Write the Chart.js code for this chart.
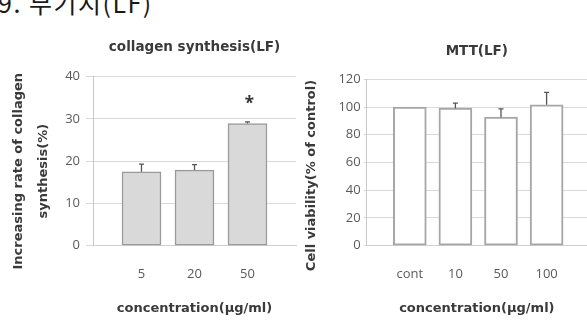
<!DOCTYPE html>
<html>
<head>
<meta charset="utf-8">
<script src="https://cdn.jsdelivr.net/npm/chart.js@4.4.1/dist/chart.umd.min.js"></script>
<style>
  html, body { margin: 0; padding: 0; background: #fff; }
  body { width: 587px; height: 324px; position: relative; overflow: hidden; }
  #hdr { position: absolute; left: -2px; top: -10px; font-family: "Noto Sans CJK KR", sans-serif; font-size: 25px; line-height: 25px; letter-spacing: 1.5px; color: #1a1a1a; white-space: nowrap; }
  canvas { position: absolute; top: 0; }
  #c1 { left: 0; }
  #c2 { left: 290px; }
</style>
</head>
<body>
<div id="hdr">9. 부기지(LF)</div>
<canvas id="c1" width="300" height="324"></canvas>
<canvas id="c2" width="297" height="324"></canvas>
<script>
// ---- data ----
const leftTitle = 'collagen synthesis(LF)';
const leftCats = ['5', '20', '50'];
const leftVals = [17.5, 17.9, 28.9];
const leftErr = [1.8, 1.3, 0.4];
const leftMarks = ['', '', '*'];
const leftYTitle = ['Increasing rate of collagen', 'synthesis(%)'];
const leftYMax = 40;
const leftYStep = 10;

const rightTitle = 'MTT(LF)';
const rightCats = ['cont', '10', '50', '100'];
const rightVals = [100, 99.2, 92.7, 101.6];
const rightErr = [0, 3.6, 6.0, 8.9];
const rightYTitle = 'Cell viability(% of control)';
const rightYMax = 120;
const rightYStep = 20;

const xTitle = 'concentration(μg/ml)';

// ---- styles ----
const FONT = '"Open Sans", "Noto Sans", sans-serif';
const BOLD = '"DejaVu Sans", sans-serif';
const textDark = '#3a3a3a';
const tickGray = '#5a5a5a';
const gridGray = '#d9d9d9';

const errPlugin = {
  id: 'errbars',
  afterLayout(chart, args, opts) {
    const ys = chart.scales.y;
    if (ys._titleShiftPatched) return;
    const orig = ys.drawTitle;
    ys.drawTitle = function () {
      const t = this.top, b = this.bottom;
      this.top += opts.shift; this.bottom += opts.shift;
      orig.apply(this, arguments);
      this.top = t; this.bottom = b;
    };
    ys._titleShiftPatched = true;
  },
  afterDatasetsDraw(chart, args, opts) {
    const ctx = chart.ctx;
    const ys = chart.scales.y;
    const meta = chart.getDatasetMeta(0);
    ctx.save();
    ctx.strokeStyle = '#555';
    ctx.lineWidth = 1.3;
    meta.data.forEach((el, i) => {
      const v = opts.vals[i], e = opts.errs[i];
      if (e > 0) {
        const yTop = ys.getPixelForValue(v + e);
        const yBar = ys.getPixelForValue(v);
        ctx.beginPath();
        ctx.moveTo(el.x, yBar);
        ctx.lineTo(el.x, yTop);
        ctx.moveTo(el.x - 2.5, yTop);
        ctx.lineTo(el.x + 2.5, yTop);
        ctx.stroke();
      }
      const m = opts.marks ? opts.marks[i] : '';
      if (m) {
        ctx.fillStyle = '#333';
        ctx.font = 'bold 17px ' + FONT;
        ctx.textAlign = 'center';
        ctx.textBaseline = 'middle';
        ctx.fillText(m, el.x + 2, ys.getPixelForValue(v + e) - 18);
      }
    });
    ctx.restore();
  }
};

function makeChart(id, cfg) {
  const cats = cfg.cats;
  return new Chart(document.getElementById(id), {
    type: 'bar',
    data: {
      datasets: [{
        data: cfg.vals.map((v, i) => ({ x: i, y: v })),
        backgroundColor: cfg.fill,
        borderColor: cfg.border,
        borderWidth: cfg.bw,
        barThickness: cfg.barW,
        borderSkipped: false
      }]
    },
    plugins: [errPlugin],
    options: {
      responsive: false,
      devicePixelRatio: 1,
      animation: false,
      layout: { padding: { left: 0, right: cfg.padR, top: 0, bottom: 0 } },
      plugins: {
        legend: { display: false },
        tooltip: { enabled: false },
        title: {
          display: true,
          fullSize: false,
          text: cfg.title,
          color: textDark,
          font: { family: BOLD, size: 13.5, weight: 'bold', lineHeight: 1.2 },
          padding: { top: cfg.titleTop, bottom: cfg.titleBottom }
        },
        errbars: { vals: cfg.vals, errs: cfg.errs, marks: cfg.marks, shift: cfg.yShift }
      },
      scales: {
        x: {
          type: 'linear',
          offset: false,
          min: cfg.xmin,
          max: cfg.xmax,
          afterBuildTicks: (s) => { s.ticks = cats.map((c, i) => ({ value: i })); },
          afterFit: (s) => { s.height = 78.3; },
          ticks: {
            callback: (v) => cats[v],
            color: tickGray,
            font: { family: FONT, size: 13 },
            padding: 21,
            maxRotation: 0,
            autoSkip: false
          },
          grid: { display: false, drawTicks: false },
          border: { display: true, color: '#cfcfcf', width: 1 },
          title: {
            display: true,
            text: xTitle,
            color: textDark,
            font: { family: BOLD, size: 13, weight: 'bold', lineHeight: 1.2 },
            padding: { top: 0, bottom: 8 }
          }
        },
        y: {
          min: 0,
          max: cfg.ymax,
          afterFit: (s) => { s.width = cfg.yW; },
          ticks: {
            stepSize: cfg.ystep,
            color: tickGray,
            font: { family: FONT, size: 13 },
            padding: cfg.tickPad
          },
          grid: { color: gridGray, lineWidth: 1, tickLength: cfg.tickLen, drawTicks: true },
          border: { display: true, color: '#c8c8c8', width: 1 },
          title: {
            display: true,
            text: cfg.yTitle,
            color: textDark,
            font: { family: BOLD, size: 13, weight: 'bold', lineHeight: cfg.yLH },
            padding: { top: cfg.yTitleTop, bottom: 0 }
          }
        }
      }
    }
  });
}

makeChart('c1', {
  cats: leftCats, vals: leftVals, errs: leftErr, marks: leftMarks,
  title: leftTitle, yTitle: leftYTitle,
  fill: '#d9d9d9', border: '#9a9a9a', bw: 1.5, barW: 39,
  padR: 4, titleTop: 39.4, titleBottom: 21.1,
  xmin: -0.915, xmax: 2.915,
  ymax: leftYMax, ystep: leftYStep, yW: 93, tickPad: 6, tickLen: 7,
  yLH: 1.96, yTitleTop: 5.7, yShift: 10
});

makeChart('c2', {
  cats: rightCats, vals: rightVals, errs: rightErr, marks: null,
  title: rightTitle, yTitle: rightYTitle,
  fill: '#ffffff', border: '#a6a6a6', bw: 2, barW: 33,
  padR: 0, titleTop: 43.4, titleBottom: 19.7,
  xmin: -0.945, xmax: 3.886,
  ymax: rightYMax, ystep: rightYStep, yW: 76.7, tickPad: 3, tickLen: 3,
  yLH: 1.2, yTitleTop: 13.7, yShift: 13
});
</script>
</body>
</html>
